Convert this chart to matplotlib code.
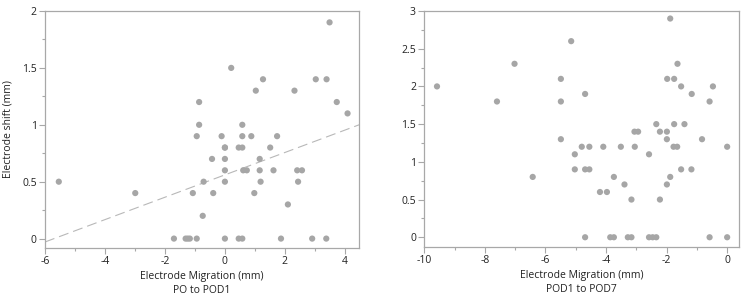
import numpy as np
import matplotlib
matplotlib.use("Agg")
import matplotlib.pyplot as plt
from matplotlib.ticker import MultipleLocator

# ---- Data: PO to POD1 ----
left_x = [-5.54, -2.99, -1.70, -1.31, -1.24, -1.17, -1.07, -0.94, -0.94, -0.86, -0.86,
          -0.74, -0.71, -0.43, -0.39, -0.11, 0.00, 0.00, 0.00, 0.00, 0.00, 0.00,
          0.21, 0.46, 0.46, 0.58, 0.58, 0.58, 0.58, 0.61, 0.73, 0.88, 0.98, 1.03,
          1.16, 1.16, 1.19, 1.27, 1.51, 1.62, 1.74, 1.87, 2.10, 2.32, 2.41, 2.44,
          2.57, 2.91, 3.03, 3.38, 3.39, 3.49, 3.73, 4.09]
left_y = [0.5, 0.4, 0.0, 0.0, 0.0, 0.0, 0.4, 0.0, 0.9, 1.0, 1.2,
          0.2, 0.5, 0.7, 0.4, 0.9, 0.8, 0.7, 0.6, 0.5, 0.0, 0.8,
          1.5, 0.8, 0.0, 0.0, 0.8, 0.9, 1.0, 0.6, 0.6, 0.9, 0.4, 1.3,
          0.7, 0.6, 0.5, 1.4, 0.8, 0.6, 0.9, 0.0, 0.3, 1.3, 0.6, 0.5,
          0.6, 0.0, 1.4, 0.0, 1.4, 1.9, 1.2, 1.1]

# Fitted trend line as shown in the figure
fit_slope = 0.0983
fit_intercept = 0.56

# ---- Data: POD1 to POD7 ----
right_x = [-9.58, -7.60, -7.02, -6.42, -5.49, -5.49, -5.49, -5.15, -5.03, -5.03,
           -4.80, -4.69, -4.69, -4.69, -4.55, -4.55, -4.20, -4.09, -3.97, -3.86,
           -3.74, -3.74, -3.51, -3.39, -3.28, -3.16, -3.16, -3.06, -3.05, -2.94,
           -2.58, -2.58, -2.46, -2.34, -2.34, -2.22, -2.22, -1.99, -1.99, -1.99,
           -1.98, -1.88, -1.88, -1.77, -1.75, -1.75, -1.65, -1.64, -1.52, -1.52,
           -1.41, -1.18, -1.17, -0.83, -0.58, -0.58, -0.47, 0.00, 0.00]
right_y = [2.0, 1.8, 2.3, 0.8, 2.1, 1.8, 1.3, 2.6, 1.1, 0.9,
           1.2, 1.9, 0.9, 0.0, 1.2, 0.9, 0.6, 1.2, 0.6, 0.0,
           0.8, 0.0, 1.2, 0.7, 0.0, 0.5, 0.0, 1.4, 1.2, 1.4,
           1.1, 0.0, 0.0, 1.5, 0.0, 1.4, 0.5, 1.4, 1.3, 0.7,
           2.1, 2.9, 0.8, 1.2, 2.1, 1.5, 1.2, 2.3, 2.0, 0.9,
           1.5, 0.9, 1.9, 1.3, 1.8, 0.0, 2.0, 1.2, 0.0]

left_xticks = [-6, -4, -2, 0, 2, 4]
left_yticks = [0, 0.5, 1, 1.5, 2]
right_xticks = [-10, -8, -6, -4, -2, 0]
right_yticks = [0, 0.5, 1, 1.5, 2, 2.5, 3]

plt.rcParams['font.family'] = ['Open Sans', 'DejaVu Sans']
plt.rcParams['font.size'] = 7

GRAY = '#a6a6a6'
SPINE = '#a8a8a8'

fig = plt.figure(figsize=(7.5, 2.97), dpi=100)
axL = fig.add_axes([0.060, 0.166, 0.419, 0.797])
axR = fig.add_axes([0.5657, 0.1694, 0.420, 0.7936])


def fmt(v):
    return ('%g' % v)


def style(ax, xticks, yticks):
    for s in ax.spines.values():
        s.set_color(SPINE)
        s.set_linewidth(0.9)
    ax.set_xticks(xticks)
    ax.set_xticklabels([fmt(v) for v in xticks])
    ax.set_yticks(yticks)
    ax.set_yticklabels([fmt(v) for v in yticks])
    ax.xaxis.set_minor_locator(MultipleLocator(1))
    ax.yaxis.set_minor_locator(MultipleLocator(0.25))
    ax.tick_params(which='major', direction='out', length=4, width=0.8,
                   color=SPINE, labelsize=7.5, labelcolor='#222222', pad=2)
    ax.tick_params(which='minor', direction='out', length=2.2, width=0.8,
                   color=SPINE)
    ax.tick_params(top=False, right=False, which='both')


# Left
axL.scatter(left_x, left_y, s=20, color=GRAY, edgecolors='none', zorder=3)
xlim_L = (-6.0, 4.48)
xx = np.array(xlim_L)
axL.plot(xx, fit_intercept + fit_slope * xx, color='#b8b8b8', lw=0.8,
         dashes=(9, 4.5), zorder=2)
axL.set_xlim(*xlim_L)
axL.set_ylim(-0.08, 2.0)
style(axL, left_xticks, left_yticks)
axL.set_xlabel('Electrode Migration (mm)\nPO to POD1', fontsize=7.5,
               color='#222222', labelpad=3, linespacing=1.35)
axL.set_ylabel('Electrode shift (mm)', fontsize=7.5, color='#222222', labelpad=6)

# Right
axR.scatter(right_x, right_y, s=20, color=GRAY, edgecolors='none', zorder=3)
axR.set_xlim(-10.0, 0.4)
axR.set_ylim(-0.125, 3.0)
style(axR, right_xticks, right_yticks)
axR.set_xlabel('Electrode Migration (mm)\nPOD1 to POD7', fontsize=7.5,
               color='#222222', labelpad=3, linespacing=1.35)

fig.savefig('out.png', dpi=100)
